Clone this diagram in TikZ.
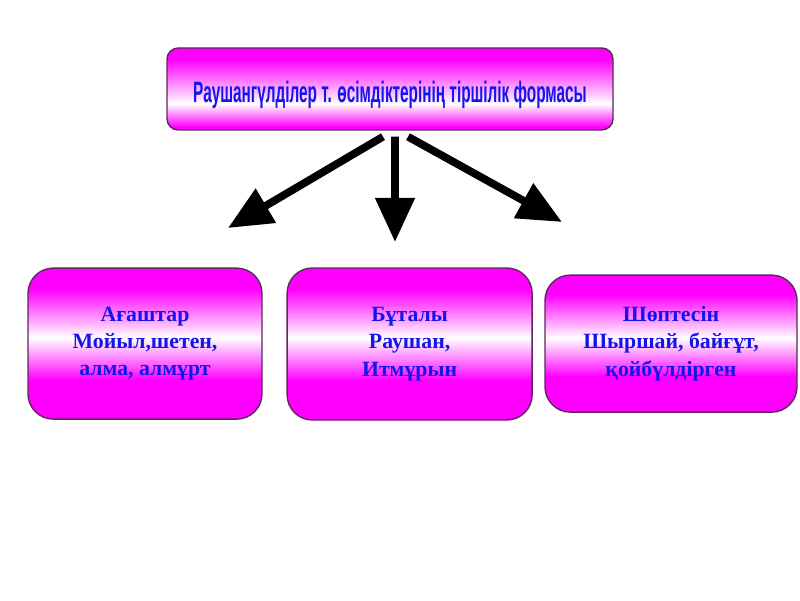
\documentclass[tikz,border=0pt]{standalone}
\usepackage{fontspec}
\setmainfont{Liberation Serif}
\newfontfamily\titlefont[FakeStretch=0.52]{Liberation Sans}
\usepackage{xcolor}
\usetikzlibrary{arrows.meta,positioning,calc}
\definecolor{pinkfill}{RGB}{255,0,255}
\definecolor{textblue}{RGB}{20,20,235}
\definecolor{boxline}{RGB}{90,40,90}
\pgfdeclareverticalshading{titleband}{100bp}{color(0bp)=(pinkfill); color(27bp)=(pinkfill);
  color(41bp)=(white); color(68bp)=(pinkfill); color(100bp)=(pinkfill)}
\pgfdeclareverticalshading{formband}{100bp}{color(0bp)=(pinkfill); color(38bp)=(pinkfill);
  color(52bp)=(white); color(68bp)=(pinkfill); color(100bp)=(pinkfill)}

\begin{document}
\begin{tikzpicture}[
  title/.style={rectangle,rounded corners=8pt,draw=boxline,line width=1pt,
    shading=titleband,inner sep=0pt,
    minimum width=11.15cm,minimum height=2.05cm,
    font=\titlefont\bfseries\fontsize{21}{24}\selectfont,text=textblue},
  form/.style={rectangle,rounded corners=18pt,draw=boxline,line width=1pt,
    shading=formband,
    align=center,font=\bfseries\fontsize{15.5}{19.5}\selectfont,text=textblue},
  arrow/.style={-{Triangle[length=1.1cm,width=0.95cm]},line width=5.5pt,black}
]
\useasboundingbox (0,0) rectangle (20,15);
% Nodes
\node[title] (top) at (9.75,12.775) {\raisebox{-4pt}[\height][\depth]{Раушангүлділер т. өсімдіктерінің тіршілік формасы}};
\node[form,minimum width=5.85cm,minimum height=3.775cm] (tree) at (3.625,6.41) {Ағаштар\\Мойыл,шетен,\\алма, алмұрт};
\node[form,minimum width=6.125cm,minimum height=3.8cm] (bush) at (10.24,6.4) {Бұталы\\Раушан,\\Итмұрын};
\node[form,minimum width=6.3cm,minimum height=3.425cm] (herb) at (16.775,6.41) {Шөптесін\\Шыршай, байғұт,\\қойбүлдірген};

% Arrow ends
\coordinate (tl) at (5.7,9.3);
\coordinate (tm) at (9.875,8.95);
\coordinate (tr) at (14.05,9.45);

% Arrows
\draw[arrow] ($(top.south)+(-0.175,-0.15)$) -- (tl);
\draw[arrow] ($(top.south)+(0.125,-0.15)$) -- (tm);
\draw[arrow] ($(top.south)+(0.45,-0.15)$) -- (tr);
\end{tikzpicture}
\end{document}
